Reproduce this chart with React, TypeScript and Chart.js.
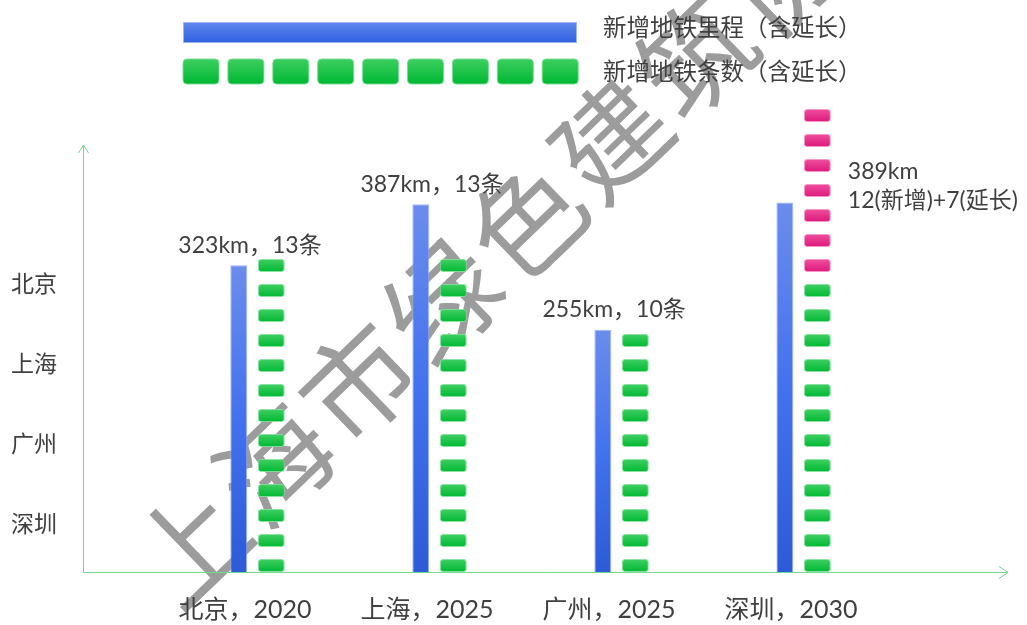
import React, { useEffect, useRef } from 'react';
import { Chart, registerables } from 'chart.js';

Chart.register(...registerables);

// ---- data ----
const categories = ['北京，2020', '上海，2025', '广州，2025', '深圳，2030'];
const kmValues = [323, 387, 255, 389];
const newLineCounts = [13, 13, 10, 12];
const extensionCounts = [0, 0, 0, 7];
const sideLabels = ['北京', '上海', '广州', '深圳'];
const legendLabels = ['新增地铁里程（含延长）', '新增地铁条数（含延长）'];
const watermarkText = '上海市绿色建筑协会';

// ---- style ----
const FONT = "Lato, 'Noto Sans CJK SC', sans-serif";
const CJK = "'Noto Sans CJK SC', sans-serif";
const TEXT = '#3f3f3f';
const AXIS = '#74d98e';
const SEG_FILL = 0.52;

function rr(ctx: CanvasRenderingContext2D, x: number, y: number, w: number, h: number, r: number) {
  ctx.beginPath();
  ctx.moveTo(x + r, y);
  ctx.lineTo(x + w - r, y);
  ctx.quadraticCurveTo(x + w, y, x + w, y + r);
  ctx.lineTo(x + w, y + h - r);
  ctx.quadraticCurveTo(x + w, y + h, x + w - r, y + h);
  ctx.lineTo(x + r, y + h);
  ctx.quadraticCurveTo(x, y + h, x, y + h - r);
  ctx.lineTo(x, y + r);
  ctx.quadraticCurveTo(x, y, x + r, y);
  ctx.closePath();
}

const decorPlugin = {
  id: 'decor',
  beforeDraw(chart: any) {
    const { ctx, chartArea } = chart;
    if (!chartArea) return;
    // watermark
    ctx.save();
    ctx.translate(190, 545);
    ctx.rotate((-44 * Math.PI) / 180);
    ctx.font = `112px ${CJK}`;
    ctx.fillStyle = '#9c9c9c';
    ctx.textAlign = 'center';
    ctx.textBaseline = 'middle';
    Array.from(watermarkText).forEach((ch, k) => ctx.fillText(ch, k * 117, 0));
    ctx.restore();

    // axes with arrows
    const { left, bottom, right, top } = chartArea;
    const ax = left + 0.5;
    const ay = bottom + 0.5;
    const yTip = top + 48;
    const xTip = right + 3;
    ctx.save();
    ctx.strokeStyle = AXIS;
    ctx.lineWidth = 1;
    ctx.beginPath();
    ctx.moveTo(ax, ay);
    ctx.lineTo(ax, yTip);
    ctx.moveTo(ax - 5, yTip + 8);
    ctx.lineTo(ax, yTip);
    ctx.lineTo(ax + 5, yTip + 8);
    ctx.moveTo(ax, ay);
    ctx.lineTo(xTip, ay);
    ctx.moveTo(xTip - 9, ay - 6);
    ctx.lineTo(xTip, ay);
    ctx.lineTo(xTip - 9, ay + 6);
    ctx.stroke();
    ctx.restore();

    // side labels
    ctx.save();
    ctx.font = `23px ${CJK}`;
    ctx.fillStyle = TEXT;
    ctx.textAlign = 'left';
    ctx.textBaseline = 'middle';
    sideLabels.forEach((t, k) => ctx.fillText(t, 11, 283 + k * 80));
    ctx.restore();

    // legend
    ctx.save();
    const g = ctx.createLinearGradient(0, 22, 0, 43);
    g.addColorStop(0, '#6089f0');
    g.addColorStop(1, '#2e5fdf');
    ctx.fillStyle = g;
    ctx.fillRect(183, 22, 394, 21);
    ctx.strokeStyle = 'rgba(170,190,245,0.9)';
    ctx.strokeRect(183.5, 22.5, 393, 20);
    for (let k = 0; k < 9; k++) {
      const x = 183 + k * 44.9;
      const gg = ctx.createLinearGradient(0, 59, 0, 84);
      gg.addColorStop(0, '#3dcf60');
      gg.addColorStop(1, '#00b832');
      rr(ctx, x, 59, 36, 25, 4);
      ctx.fillStyle = gg;
      ctx.fill();
      ctx.strokeStyle = 'rgba(120,220,150,0.9)';
      ctx.stroke();
    }
    ctx.font = `23.5px ${CJK}`;
    ctx.fillStyle = TEXT;
    ctx.textAlign = 'left';
    ctx.textBaseline = 'middle';
    ctx.fillText(legendLabels[0], 603, 27);
    ctx.fillText(legendLabels[1], 603, 71);
    ctx.restore();
  },
  afterDatasetsDraw(chart: any) {
    const { ctx } = chart;
    const bars = chart.getDatasetMeta(0).data;
    const totals = newLineCounts.map((n, c) => n + extensionCounts[c]);
    ctx.save();
    ctx.font = `23px ${FONT}`;
    ctx.fillStyle = TEXT;
    ctx.textBaseline = 'middle';
    bars.forEach((bar: any, c: number) => {
      const x = chart.scales.x.getPixelForValue(c);
      if (extensionCounts[c] === 0) {
        ctx.textAlign = 'center';
        ctx.fillText(`${kmValues[c]}km，${newLineCounts[c]}条`, x - 5, bar.y - 20);
      } else {
        const seg0 = chart.getDatasetMeta(1).data[c];
        const segTop = chart.getDatasetMeta(totals[c]).data[c];
        const lx = seg0.x + seg0.width / 2 + 17;
        const ly = segTop.y + 63;
        ctx.textAlign = 'left';
        ctx.fillText(`${kmValues[c]}km`, lx, ly);
        ctx.fillText(`${newLineCounts[c]}(新增)+${extensionCounts[c]}(延长)`, lx, ly + 29);
      }
    });
    ctx.restore();
  },
};

export default function App() {
  const ref = useRef<HTMLCanvasElement>(null);
  useEffect(() => {
    if (!ref.current) return;
    const totals = newLineCounts.map((n, c) => n + extensionCounts[c]);
    const maxSeg = Math.max(...totals);

    const blueBg = (ctx: any) => {
      const chart = ctx.chart;
      const ys = chart.scales.y;
      if (!chart.chartArea || !ys || !ctx.parsed) return '#4a74e6';
      const t = ys.getPixelForValue(ctx.parsed.y);
      const b = ys.getPixelForValue(0);
      const g = chart.ctx.createLinearGradient(0, t, 0, b);
      g.addColorStop(0, '#6b8cec');
      g.addColorStop(0.5, '#4372ee');
      g.addColorStop(1, '#2d5bd7');
      return g;
    };

    const segDatasets = Array.from({ length: maxSeg }, (_, i) => ({
      type: 'bar' as const,
      label: `seg${i}`,
      yAxisID: 'y2',
      stack: 'seg',
      categoryPercentage: 0.357,
      barPercentage: 0.83,
      borderRadius: 3,
      borderSkipped: false,
      borderWidth: 1,
      data: categories.map((_, c) => ({ x: c, y: i < totals[c] ? [i, i + SEG_FILL] : null })),
      backgroundColor: (ctx: any) => {
        const chart = ctx.chart;
        const c = ctx.raw ? ctx.raw.x : 0;
        const ext = i >= newLineCounts[c];
        const y2 = chart.scales.y2;
        if (!chart.chartArea || !y2) return ext ? '#e6318a' : '#10bf3e';
        const t = y2.getPixelForValue(i + SEG_FILL);
        const b = y2.getPixelForValue(i);
        const g = chart.ctx.createLinearGradient(0, t, 0, b);
        if (ext) {
          g.addColorStop(0, '#f0509f');
          g.addColorStop(1, '#dc187b');
        } else {
          g.addColorStop(0, '#40d063');
          g.addColorStop(1, '#00b832');
        }
        return g;
      },
      borderColor: (ctx: any) => {
        const c = ctx.raw ? ctx.raw.x : 0;
        return i >= newLineCounts[c] ? 'rgba(245,140,192,0.9)' : 'rgba(125,222,152,0.9)';
      },
    }));

    const chart = new Chart(ref.current, {
      type: 'bar',
      data: {
        datasets: [
          {
            type: 'bar',
            label: legendLabels[0],
            yAxisID: 'y',
            stack: 'km',
            categoryPercentage: 0.357,
            barPercentage: 0.523,
            borderWidth: 1,
            borderColor: 'rgba(150,175,245,0.9)',
            backgroundColor: blueBg,
            data: categories.map((_, c) => ({ x: c, y: kmValues[c] })),
          } as any,
          ...(segDatasets as any[]),
        ],
      },
      options: {
        animation: false,
        responsive: true,
        maintainAspectRatio: false,
        events: [],
        layout: { padding: { left: 83, right: 22, top: 97, bottom: 0 } },
        plugins: { legend: { display: false }, tooltip: { enabled: false } },
        scales: {
          x: {
            type: 'linear',
            min: -0.945,
            max: 4.12,
            offset: false,
            grid: { display: false, drawTicks: false },
            border: { display: false },
            afterBuildTicks: (s: any) => {
              s.ticks = categories.map((_, i) => ({ value: i }));
            },
            afterFit: (s: any) => {
              s.height = 53;
            },
            ticks: {
              autoSkip: false,
              maxRotation: 0,
              padding: 23,
              labelOffset: -10,
              color: TEXT,
              font: { family: FONT, size: 25 },
              callback: (v: any) => categories[v] ?? '',
            },
          },
          y: { display: false, min: 0, max: 500, stacked: false },
          y2: { display: false, min: 0, max: 19, stacked: false },
        } as any,
      },
      plugins: [decorPlugin as any],
    });
    return () => chart.destroy();
  }, []);

  return (
    <div style={{ position: 'absolute', left: 0, top: 0, width: 1027, height: 625 }}>
      <canvas ref={ref} />
    </div>
  );
}
